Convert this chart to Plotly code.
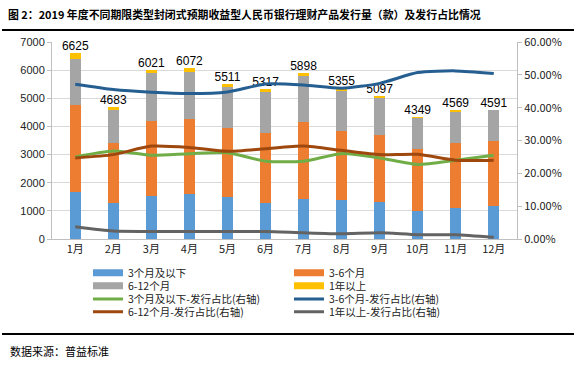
import plotly.graph_objects as go

months = ["1月", "2月", "3月", "4月", "5月", "6月", "7月", "8月", "9月", "10月", "11月", "12月"]
# issuance counts (款)
cnt_3m = [1673, 1270, 1530, 1601, 1484, 1270, 1413, 1388, 1317, 986, 1103, 1174]
cnt_3_6m = [3085, 2135, 2659, 2659, 2466, 2492, 2751, 2445, 2373, 2206, 2302, 2303]
cnt_6_12m = [1637, 1175, 1708, 1683, 1449, 1469, 1637, 1423, 1328, 1114, 1115, 1092]
cnt_1y = [230, 103, 124, 129, 112, 86, 97, 99, 79, 43, 49, 22]
totals = [6625, 4683, 6021, 6072, 5511, 5317, 5898, 5355, 5097, 4349, 4569, 4591]
# shares (%)
sh_3m = [25.0, 26.8, 25.5, 26.0, 26.3, 23.7, 23.7, 26.0, 24.7, 22.7, 24.0, 25.5]
sh_3_6m = [47.1, 45.5, 44.7, 44.3, 44.8, 47.2, 46.9, 45.9, 47.4, 50.7, 51.2, 50.4]
sh_6_12m = [24.7, 25.7, 28.3, 27.9, 26.7, 27.5, 28.3, 27.0, 25.7, 25.8, 24.0, 24.0]
sh_1y = [3.7, 2.4, 2.3, 2.3, 2.3, 2.3, 1.9, 1.6, 1.9, 1.3, 1.3, 0.5]

left_ticks = [0, 1000, 2000, 3000, 4000, 5000, 6000, 7000]
right_ticks = [0, 10, 20, 30, 40, 50, 60]
right_labels = ["0.00%", "10.00%", "20.00%", "30.00%", "40.00%", "50.00%", "60.00%"]

C_BLUE, C_ORANGE, C_GRAY, C_YELLOW = "#5B9BD5", "#ED7D31", "#A5A5A5", "#FFC000"
C_GREEN, C_DBLUE, C_BROWN, C_DGRAY = "#70AD47", "#255E91", "#9E480E", "#636363"

CJK = "Noto Sans CJK SC"
LAT = "Liberation Sans, Arial"

fig = go.Figure()

bars = [(cnt_3m, C_BLUE, "3个月及以下", "legend"),
        (cnt_3_6m, C_ORANGE, "3-6个月", "legend"),
        (cnt_6_12m, C_GRAY, "6-12个月", "legend2"),
        (cnt_1y, C_YELLOW, "1年以上", "legend2")]
for vals, col, name, lg in bars:
    fig.add_trace(go.Bar(x=months, y=vals, marker=dict(color=col, line=dict(width=0)),
                         name=name, showlegend=False))

fig.add_trace(go.Scatter(x=months, y=totals, mode="text", text=[str(t) for t in totals],
                         textposition="top center", textfont=dict(family=LAT, size=12, color="#000000"),
                         showlegend=False, cliponaxis=False))

lines = [(sh_3m, C_GREEN, "3个月及以下-发行占比(右轴)", "legend3"),
         (sh_3_6m, C_DBLUE, "3-6个月-发行占比(右轴)", "legend3"),
         (sh_6_12m, C_BROWN, "6-12个月-发行占比(右轴)", "legend4"),
         (sh_1y, C_DGRAY, "1年以上-发行占比(右轴)", "legend4")]
for vals, col, name, lg in lines:
    fig.add_trace(go.Scatter(x=months, y=vals, mode="lines", yaxis="y2", name=name,
                             line=dict(color=col, width=3, shape="spline", smoothing=0.6),
                             legend=lg))

# legend proxies for bars (wide swatches)
for vals, col, name, lg in bars:
    fig.add_trace(go.Scatter(x=[None], y=[None], mode="lines", name=name,
                             line=dict(color=col, width=7), legend=lg, yaxis="y2"))

# empty frame subplot whose mirrored axis lines give the two black rules
fig.add_trace(go.Scatter(x=[None], y=[None], mode="lines", xaxis="x3", yaxis="y3",
                         showlegend=False, hoverinfo="skip"))

W, H = 576, 366
PL, PR, PT, PB = 52, 517, 42, 239  # plot area edges in pixels
RULE_TOP, RULE_BOTTOM = 30.5, 333


def fx(x):
    return x / W


def fy(y):
    return 1 - y / H


leg_common = dict(orientation="h", xanchor="left", yanchor="middle", traceorder="normal",
                  font=dict(family=CJK, size=10.5, color="#222222"),
                  bgcolor="rgba(0,0,0,0)", entrywidth=156, entrywidthmode="pixels",
                  itemwidth=30, tracegroupgap=0)
rows_y = [272.7, 285.7, 299, 311.7]
fig.update_layout(
    width=W, height=H, margin=dict(l=0, r=0, t=0, b=0, pad=0, autoexpand=False),
    paper_bgcolor="white", plot_bgcolor="rgba(0,0,0,0)",
    barmode="stack", bargap=0.70,
    title=dict(text="<b>图 2：2019 年度不同期限类型封闭式预期收益型人民币银行理财产品发行量（款）及发行占比情况</b>",
               font=dict(family=CJK, size=10.9, color="#000000"),
               xref="container", yref="container", x=8 / W, xanchor="left", y=1 - 15 / H, yanchor="middle"),
    xaxis=dict(type="category", domain=[fx(PL), fx(PR)], showgrid=False, showline=True,
               linecolor="#BFBFBF", linewidth=1,
               ticks="", tickfont=dict(family=CJK, size=11, color="#222222")),
    yaxis=dict(range=[0, 7000], domain=[fy(PB), fy(PT)], tickvals=left_ticks, showgrid=True,
               gridcolor="#D9D9D9",
               showline=True, linecolor="#BFBFBF", ticks="outside", ticklen=4, tickcolor="#BFBFBF",
               tickfont=dict(family=LAT, size=11, color="#222222"), zeroline=False),
    yaxis2=dict(range=[0, 60], overlaying="y", side="right", tickvals=right_ticks, ticktext=right_labels,
                showgrid=False, showline=True, linecolor="#BFBFBF", ticks="outside", ticklen=4,
                tickcolor="#BFBFBF", tickfont=dict(family=CJK, size=11, color="#222222"), zeroline=False),
    xaxis3=dict(domain=[fx(2), fx(574)], anchor="y3", range=[0, 1], showline=True, mirror=True,
                linecolor="black", linewidth=2, ticks="", showticklabels=False, showgrid=False,
                zeroline=False, fixedrange=True),
    yaxis3=dict(domain=[fy(RULE_BOTTOM), fy(RULE_TOP)], anchor="x3", range=[0, 1], showline=False,
                ticks="", showticklabels=False, showgrid=False, zeroline=False, fixedrange=True),
    legend=dict(x=fx(88), y=fy(rows_y[0]), **leg_common),
    legend2=dict(x=fx(88), y=fy(rows_y[1]), **leg_common),
    legend3=dict(x=fx(88), y=fy(rows_y[2]), **leg_common),
    legend4=dict(x=fx(88), y=fy(rows_y[3]), **leg_common),
    showlegend=True,
)

fig.add_annotation(text="数据来源：普益标准", xref="paper", yref="paper", x=fx(8), y=fy(351),
                   xanchor="left", yanchor="middle", showarrow=False,
                   font=dict(family=CJK, size=11, color="#000000"))

fig.write_html("out.html", config={"displayModeBar": False, "staticPlot": True},
               post_script="document.body.style.margin='0';document.body.style.overflow='hidden';")
